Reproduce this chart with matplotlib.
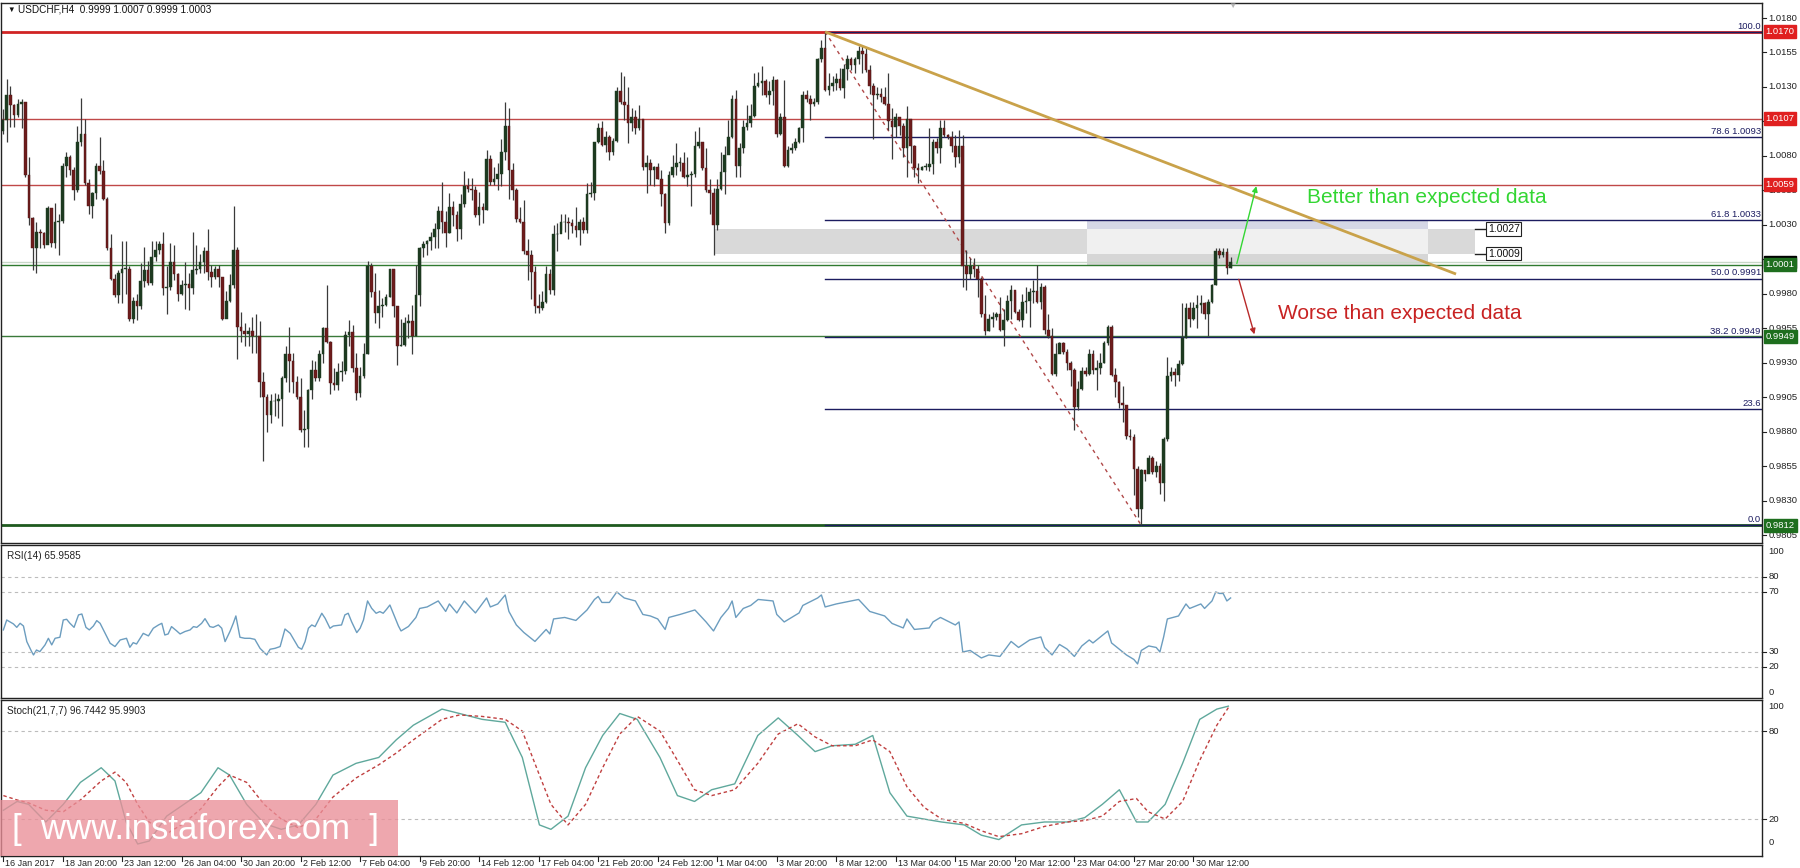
import numpy as np
import matplotlib
matplotlib.use("Agg")
import matplotlib.pyplot as plt
from matplotlib.patches import Rectangle
from matplotlib.transforms import blended_transform_factory as blend

# ---------------- data ----------------
first_open = 1.0098
close = [
 1.0106,1.0124,1.0117,1.0110,1.0118,1.0119,1.0066,1.0035,1.0013,1.0025,
 1.0024,1.0015,1.0042,1.0017,1.0032,1.0033,1.0073,1.0079,1.0070,1.0055,
 1.0090,1.0096,1.0060,1.0044,1.0053,1.0073,1.0069,1.0049,1.0013,0.9991,
 0.9979,0.9995,0.9998,0.9998,0.9962,0.9975,0.9971,0.9989,0.9997,0.9988,
 1.0007,1.0012,1.0016,0.9984,0.9985,1.0003,0.9994,0.9980,0.9986,0.9987,
 0.9984,0.9997,0.9998,1.0003,1.0011,0.9996,0.9992,0.9998,0.9992,0.9962,
 0.9975,0.9986,1.0012,0.9956,0.9953,0.9951,0.9953,0.9949,0.9949,0.9916,
 0.9905,0.9892,0.9902,0.9902,0.9904,0.9919,0.9936,0.9931,0.9916,0.9905,
 0.9881,0.9882,0.9910,0.9925,0.9919,0.9936,0.9955,0.9945,0.9915,0.9914,
 0.9923,0.9924,0.9950,0.9952,0.9926,0.9908,0.9920,0.9936,1.0000,0.9981,
 0.9966,0.9971,0.9972,0.9978,0.9998,0.9971,0.9942,0.9943,0.9959,0.9960,
 0.9949,0.9979,1.0013,1.0016,1.0018,1.0021,1.0027,1.0040,1.0032,1.0024,
 1.0043,1.0037,1.0027,1.0045,1.0058,1.0056,1.0055,1.0037,1.0043,1.0041,1.0078,1.0061,
 1.0063,1.0067,1.0083,1.0102,1.0070,1.0055,1.0034,1.0032,1.0011,1.0008,
 0.9996,0.9971,0.9970,0.9974,0.9994,0.9983,1.0023,1.0023,1.0032,1.0032,
 1.0031,1.0029,1.0026,1.0032,1.0026,1.0052,1.0053,1.0090,1.0100,1.0088,
 1.0094,1.0083,1.0091,1.0127,1.0119,1.0117,1.0104,1.0108,1.0100,1.0107,
 1.0072,1.0075,1.0070,1.0072,1.0063,1.0052,1.0031,1.0066,1.0072,1.0075,
 1.0075,1.0065,1.0066,1.0067,1.0087,1.0090,1.0071,1.0055,1.0053,1.0030,
 1.0056,1.0068,1.0081,1.0094,1.0121,1.0073,
 1.0086,1.0101,1.0104,1.0109,1.0131,1.0133,1.0134,1.0124,1.0127,1.0135,
 1.0096,1.0108,1.0073,1.0084,1.0086,1.0090,1.0100,1.0124,1.0121,1.0118,
 1.0119,1.0150,1.0158,1.0128,1.0131,1.0133,1.0136,1.0129,1.0143,1.0150,
 1.0146,1.0150,1.0156,1.0154,1.0142,1.0131,1.0124,1.0125,1.0123,1.0118,
 1.0105,1.0101,1.0108,1.0102,1.0086,1.0107,1.0087,1.0071,1.0070,1.0072,
 1.0072,1.0074,1.0090,1.0086,1.0100,1.0095,1.0094,1.0087,1.0079,1.0087,
 1.0000,0.9994,1.0000,0.9998,0.9991,0.9965,
 0.9953,0.9962,0.9963,0.9965,0.9954,0.9961,0.9975,0.9983,0.9967,0.9961,
 0.9974,0.9975,0.9981,0.9982,0.9974,0.9985,0.9954,0.9949,0.9922,0.9936,
 0.9944,0.9938,0.9930,0.9925,0.9898,0.9911,0.9924,0.9922,0.9936,0.9925,
 0.9926,0.9930,0.9944,0.9956,0.9921,0.9916,0.9901,0.9899,0.9877,0.9876,
 0.9853,0.9824,0.9852,0.9849,0.9861,0.9851,0.9855,0.9843,0.9875,0.9920,
 0.9923,0.9921,0.9929,0.9948,0.9970,0.9962,0.9970,0.9972,0.9973,0.9965,
 0.9974,0.9986,1.0011,1.0008,1.0010,0.9999,1.0003]
high = [
 1.0114,1.0136,1.0131,1.0118,1.0121,1.0121,1.0119,1.0079,1.0036,1.0032,
 1.0027,1.0025,1.0044,1.0042,1.0046,1.0038,1.0075,1.0083,1.0081,1.0072,
 1.0102,1.0122,1.0107,1.0063,1.0054,1.0075,1.0094,1.0077,1.0050,1.0023,
 0.9994,0.9997,1.0018,1.0018,1.0000,0.9978,0.9980,1.0002,1.0014,1.0004,
 1.0018,1.0018,1.0018,1.0025,1.0000,1.0017,1.0015,0.9995,0.9990,1.0003,
 0.9995,1.0025,1.0015,1.0009,1.0014,1.0027,1.0001,1.0000,1.0001,0.9983,
 0.9982,0.9994,1.0044,1.0014,0.9967,0.9959,0.9956,0.9963,0.9965,0.9960,
 0.9923,0.9907,0.9907,0.9908,0.9907,0.9920,0.9942,0.9956,0.9937,0.9920,
 0.9919,0.9896,0.9911,0.9932,0.9931,0.9939,0.9956,0.9986,0.9946,0.9926,
 0.9930,0.9931,0.9953,0.9961,0.9957,0.9937,0.9927,0.9944,1.0004,1.0002,
 0.9995,0.9983,0.9977,0.9980,0.9998,0.9998,0.9971,0.9962,0.9963,0.9965,
 0.9972,1.0001,1.0014,1.0018,1.0019,1.0025,1.0031,1.0044,1.0061,1.0040,
 1.0053,1.0047,1.0040,1.0052,1.0069,1.0064,1.0064,1.0058,1.0054,1.0046,1.0084,1.0081,
 1.0072,1.0075,1.0092,1.0119,1.0115,1.0075,1.0057,1.0043,1.0048,1.0020,
 1.0012,1.0000,0.9980,0.9982,1.0000,0.9998,1.0030,1.0031,1.0038,1.0038,
 1.0036,1.0034,1.0043,1.0034,1.0036,1.0060,1.0061,1.0090,1.0104,1.0105,
 1.0098,1.0095,1.0093,1.0130,1.0141,1.0138,1.0130,1.0115,1.0113,1.0117,
 1.0107,1.0081,1.0078,1.0073,1.0075,1.0070,1.0053,1.0069,1.0081,1.0089,
 1.0079,1.0083,1.0079,1.0069,1.0098,1.0101,1.0090,1.0086,1.0063,1.0057,
 1.0063,1.0083,1.0087,1.0106,1.0124,1.0128,
 1.0089,1.0106,1.0117,1.0118,1.0140,1.0141,1.0145,1.0136,1.0134,1.0138,
 1.0136,1.0111,1.0135,1.0087,1.0089,1.0093,1.0101,1.0127,1.0128,1.0124,
 1.0122,1.0151,1.0164,1.0170,1.0140,1.0138,1.0140,1.0144,1.0147,1.0153,
 1.0152,1.0152,1.0160,1.0160,1.0159,1.0146,1.0133,1.0130,1.0129,1.0130,
 1.0140,1.0115,1.0111,1.0106,1.0104,1.0116,1.0107,1.0088,1.0075,1.0073,
 1.0075,1.0100,1.0092,1.0093,1.0106,1.0106,1.0096,1.0098,1.0095,1.0099,
 1.0095,1.0012,1.0006,1.0006,1.0001,0.9992,
 0.9979,0.9965,0.9967,0.9967,0.9978,0.9969,0.9979,0.9986,0.9982,0.9969,
 0.9980,0.9985,0.9984,0.9990,1.0001,0.9988,0.9986,0.9965,0.9955,0.9944,
 0.9945,0.9945,0.9940,0.9931,0.9926,0.9917,0.9927,0.9927,0.9940,0.9939,
 0.9932,0.9937,0.9946,0.9957,0.9957,0.9926,0.9917,0.9913,0.9899,0.9882,
 0.9878,0.9855,0.9853,0.9852,0.9863,0.9862,0.9859,0.9857,0.9876,0.9934,
 0.9927,0.9926,0.9932,0.9973,0.9973,0.9974,0.9974,0.9979,0.9979,0.9974,
 0.9976,0.9987,1.0013,1.0013,1.0013,1.0013,1.0007]
low = [
 1.0096,1.0090,1.0101,1.0101,1.0108,1.0100,1.0065,1.0030,0.9997,0.9995,
 1.0013,1.0013,1.0023,1.0014,1.0013,1.0008,1.0031,1.0065,1.0066,1.0048,
 1.0054,1.0087,1.0059,1.0038,1.0035,1.0049,1.0067,1.0048,1.0012,0.9990,
 0.9978,0.9973,0.9973,0.9980,0.9960,0.9959,0.9961,0.9969,0.9985,0.9986,
 0.9986,1.0004,1.0009,0.9979,0.9965,0.9983,0.9990,0.9975,0.9979,0.9969,
 0.9968,0.9980,0.9994,0.9995,0.9995,0.9990,0.9985,0.9991,0.9985,0.9961,
 0.9966,0.9974,0.9984,0.9933,0.9945,0.9942,0.9942,0.9937,0.9937,0.9905,
 0.9859,0.9880,0.9886,0.9891,0.9890,0.9884,0.9916,0.9909,0.9908,0.9904,
 0.9880,0.9869,0.9869,0.9904,0.9917,0.9917,0.9930,0.9944,0.9907,0.9910,
 0.9910,0.9917,0.9922,0.9942,0.9923,0.9903,0.9905,0.9919,0.9936,0.9978,
 0.9959,0.9955,0.9963,0.9971,0.9978,0.9963,0.9928,0.9942,0.9942,0.9948,
 0.9936,0.9949,0.9971,1.0007,1.0008,1.0012,1.0013,1.0013,1.0024,1.0014,
 1.0024,1.0029,1.0018,1.0020,1.0043,1.0054,1.0048,1.0036,1.0030,1.0031,1.0041,1.0059,
 1.0059,1.0055,1.0058,1.0077,1.0049,1.0048,1.0032,1.0031,1.0009,0.9990,
 0.9976,0.9966,0.9966,0.9968,0.9973,0.9980,0.9979,1.0011,1.0026,1.0025,
 1.0020,1.0024,1.0021,1.0015,1.0024,1.0024,1.0050,1.0048,1.0089,1.0087,
 1.0083,1.0077,1.0081,1.0090,1.0118,1.0106,1.0089,1.0098,1.0096,1.0099,
 1.0070,1.0053,1.0059,1.0058,1.0063,1.0044,1.0024,1.0030,1.0065,1.0066,
 1.0069,1.0064,1.0058,1.0044,1.0065,1.0086,1.0070,1.0054,1.0038,1.0008,
 1.0026,1.0055,1.0052,1.0082,1.0093,1.0065,
 1.0065,1.0082,1.0099,1.0101,1.0108,1.0130,1.0124,1.0123,1.0118,1.0117,
 1.0094,1.0095,1.0072,1.0072,1.0082,1.0084,1.0089,1.0090,1.0119,1.0106,
 1.0116,1.0118,1.0148,1.0127,1.0124,1.0127,1.0128,1.0128,1.0122,1.0135,
 1.0142,1.0140,1.0147,1.0140,1.0141,1.0125,1.0092,1.0121,1.0119,1.0117,
 1.0099,1.0078,1.0094,1.0095,1.0079,1.0065,1.0075,1.0065,1.0060,1.0070,
 1.0070,1.0069,1.0067,1.0082,1.0075,1.0094,1.0092,1.0083,1.0072,1.0075,
 0.9985,0.9983,0.9991,0.9992,0.9978,0.9963,
 0.9950,0.9953,0.9956,0.9961,0.9953,0.9942,0.9960,0.9962,0.9966,0.9960,
 0.9956,0.9966,0.9956,0.9973,0.9973,0.9969,0.9951,0.9948,0.9921,0.9920,
 0.9937,0.9936,0.9925,0.9913,0.9881,0.9896,0.9910,0.9920,0.9921,0.9922,
 0.9910,0.9922,0.9930,0.9943,0.9920,0.9905,0.9897,0.9887,0.9875,0.9874,
 0.9834,0.9818,0.9812,0.9844,0.9852,0.9849,0.9847,0.9835,0.9830,0.9873,
 0.9917,0.9913,0.9917,0.9928,0.9948,0.9956,0.9961,0.9955,0.9966,0.9962,
 0.9949,0.9973,0.9986,1.0006,1.0007,0.9994,0.9999]

rsi_bars = [0.1,1.0,2.8,3.7,4.6,5.5,6.4,7.7,8.2,9.0,9.9,11.3,12.2,13.1,14.0,15.3,16.2,17.1,18.0,19.1,
 20.3,21.2,22.3,23.2,24.3,25.2,26.1,27.0,28.8,30.1,31.5,33.2,34.1,35.0,35.9,37.7,39.1,40.4,41.8,42.7,
 43.5,44.4,45.3,46.7,47.6,48.9,50.3,51.2,52.1,53.4,54.3,55.6,56.5,57.9,58.8,59.7,61.0,61.9,62.6,63.7,
 65.0,66.4,67.7,69.1,70.0,70.9,71.8,73.1,74.5,75.8,77.2,78.5,79.4,80.3,81.2,82.1,83.0,83.9,85.7,86.6,
 87.9,88.8,89.7,91.0,91.9,92.8,93.7,95.1,96.0,96.9,98.0,99.1,100.3,101.3,102.2,103.1,104.0,104.9,106.3,
 107,109,111,112,114,117,119,120,122,124,
 127,130,131,133,135,136,138,140,143,146,
 147,148,151,154,157,159,160,161,163,165,
 167,170,172,174,176,178,179,182,186,189,
 191,193,195,196,197,199,201,203,207,208,
 210,214,215,219,220,221,224,226,230,233,
 237,239,242,243,245,249,250,252,256,257,
 258,260,263,265,268,271,273,276,279,280,
 282,284,286,288,290,292,293,297,298,300,
 302,304,305,306,308,310,311,312,313,316,
 317,318,319,322,323,325,326,327,328,329,330]
rsi_vals = [44.7,51.3,48.7,46.4,49.1,47.3,36.9,30.2,28.0,31.3,30.2,34.7,39.1,34.7,39.1,39.8,51.3,51.8,49.1,46.4,
 54.7,55.3,46.4,44.7,47.3,50.9,49.1,44.7,35.8,33.6,38.0,39.1,33.1,36.2,35.3,42.4,40.7,45.8,48.0,49.1,
 41.3,42.0,46.9,44.0,42.0,43.6,44.7,46.9,46.4,49.1,52.2,46.9,46.4,48.0,45.8,36.9,43.6,49.1,54.0,39.8,
 39.1,39.1,38.4,32.4,30.2,28.0,31.8,32.4,33.6,45.3,42.4,36.9,33.1,31.8,36.9,45.8,48.0,46.9,55.8,52.4,
 45.8,47.3,47.6,48.0,54.7,55.8,50.2,42.9,45.8,51.3,64.0,59.1,55.8,56.9,55.8,58.4,61.3,55.8,47.3,
 44,47,53,59,60,64,57,62,56,64,
 56,66,60,62,68,57,48,43,37,45,
 42,52,53,51,58,65,67,63,63,70,
 66,64,55,54,52,45,53,55,58,50,
 44,53,59,64,53,59,61,65,64,55,
 50,56,61,66,68,60,62,63,65,57,
 54,49,46,52,45,46,50,53,48,50,
 30,31,26,28,27,37,33,38,40,33,
 28,35,32,27,34,38,36,44,36,32,
 28,25,22,31,34,33,30,40,52,54,
 58,62,59,62,59,64,70,69,69,64,66]

stoch_bars = [0.1,3.8,6.9,11.5,16.2,20.8,26.4,30.1,33.1,36.2,
 39.3,44,48.6,53.2,57.8,60.9,65.5,70.2,74.8,79.4,
 84.1,88.7,94.9,101,105.7,110.3,118,122.7,128.8,135,
 139.6,144.2,147.3,151.9,156.6,161.2,165.8,170.5,176.6,181.3,
 185.9,190.5,196.7,202.9,208.4,213.7,218.3,222.9,229.1,233.8,
 238.4,243,247.6,252.3,258.4,263,267.7,273.8,280,286.2,
 290.8,295.5,300.1,304.7,307.8,312.4,317.1,321.7,326.3,329.4]
stoch_main = [26,32,30,18,30,45,55,46,18,3,
 5,22,30,38,55,50,30,17,13,16,
 30,50,58,62,74,84,95,92,88,86,
 62,16,13,22,55,77,92,88,62,36,
 32,40,44,77,89,77,66,70,71,77,
 38,22,20,18,16,9,6,16,18,18,
 21,30,40,18,18,30,58,88,95,97]
stoch_signal = [36,33,31,26,25,33,46,52,45,30,
 18,10,17,27,42,50,45,30,20,14,
 20,35,48,57,65,74,88,91,90,88,
 80,50,30,16,30,55,78,90,80,60,
 40,36,40,58,78,85,76,70,70,74,
 66,42,28,20,17,12,8,10,15,18,
 19,22,32,34,25,20,32,60,84,96]

price_ticks = [1.0180,1.0155,1.0130,1.0105,1.0080,1.0055,1.0030,1.0005,0.9980,0.9955,0.9930,0.9905,0.9880,0.9855,0.9830,0.9805]
date_labels = ["16 Jan 2017","18 Jan 20:00","23 Jan 12:00","26 Jan 04:00","30 Jan 20:00","2 Feb 12:00","7 Feb 04:00",
 "9 Feb 20:00","14 Feb 12:00","17 Feb 04:00","21 Feb 20:00","24 Feb 12:00","1 Mar 04:00","3 Mar 20:00","8 Mar 12:00",
 "13 Mar 04:00","15 Mar 20:00","20 Mar 12:00","23 Mar 04:00","27 Mar 20:00","30 Mar 12:00"]
level_red = [1.0170, 1.0107, 1.0059]
level_green = [1.0001, 0.9949, 0.9812]
fib_high, fib_low = 1.0170, 0.9812
fib_levels = [(100.0, "100.0"), (78.6, "78.6 1.0093"), (61.8, "61.8 1.0033"), (50.0, "50.0 0.9991"),
              (38.2, "38.2 0.9949"), (23.6, "23.6"), (0.0, "0.0")]

# ---------------- layout ----------------
W, H = 1800, 868
fig = plt.figure(figsize=(18, 8.68), dpi=100)
plt.rcParams["font.family"] = ["Liberation Sans", "DejaVu Sans"]

def rect(top, bottom, left=1, right=1762):
    return [left / W, 1 - bottom / H, (right - left) / W, (bottom - top) / H]

ax = fig.add_axes(rect(3, 543))
ax_r = fig.add_axes(rect(545, 698))
ax_s = fig.add_axes(rect(700, 856))
DX = 3.72
xlim = ((1 - 3) / DX, (1762 - 3) / DX)
for a in (ax, ax_r, ax_s):
    a.set_xlim(*xlim)
    a.set_xticks([]); a.set_yticks([])
    for s in a.spines.values():
        s.set_color("#222222"); s.set_linewidth(1.0)
ax.set_ylim(0.97992, 1.01909)
ax_r.set_ylim(-0.7, 101.3)
ax_s.set_ylim(-5.2, 101.2)

n = len(close)
x = np.arange(n)
c = np.array(close); h = np.array(high); l = np.array(low)
o = np.concatenate([[first_open], c[:-1]])   # H4 bars open at previous close

# zones
zA0, zA1, zB0, zB1 = 191.4, 395.7, 291.4, 383.1
ax.add_patch(Rectangle((zA0, 1.0009), zB0 - zA0, 0.0018, fc="#d9d9d9", ec="none", zorder=0.5))
ax.add_patch(Rectangle((zB0, 1.0027), zB1 - zB0, 0.0006, fc="#d5d7e6", ec="none", zorder=0.5))
ax.add_patch(Rectangle((zB0, 1.0009), zB1 - zB0, 0.0018, fc="#f0f0f0", ec="none", zorder=0.5))
ax.add_patch(Rectangle((zB0, 1.0001), zB1 - zB0, 0.0008, fc="#d6d6d6", ec="none", zorder=0.5))
ax.add_patch(Rectangle((zB1, 1.0009), zA1 - zB1, 0.0018, fc="#d9d9d9", ec="none", zorder=0.5))

# horizontal levels
ax.axhline(1.0170, color="#d02424", lw=2.0, zorder=1)
ax.axhline(1.0107, color="#c04848", lw=1.0, zorder=1)
ax.axhline(1.0059, color="#c04848", lw=1.0, zorder=1)
ax.axhline(1.0003, color="#c8d8c8", lw=1.0, zorder=1)
ax.axhline(1.0001, color="#2e7a2e", lw=1.0, zorder=1)
ax.axhline(0.9949, color="#3a7a3a", lw=1.0, zorder=1)
ax.axhline(0.9812, color="#1e5a1e", lw=2.0, zorder=1)

# fibonacci
fib_start = 221
for pct, lab in fib_levels:
    v = fib_low + (fib_high - fib_low) * pct / 100.0
    ax.plot([fib_start, xlim[1]], [v, v], color="#1c1c60", lw=1.0, zorder=1.2)
    ax.text(0.9993, v + 0.00008, lab, transform=blend(ax.transAxes, ax.transData), ha="right", va="bottom",
            fontsize=6.8, color="#1c1c60", zorder=5)
ax.plot([221, 306], [fib_high, fib_low], color="#b04848", lw=1.0, ls=(0, (2.5, 3)), zorder=1.3)

# candles
up = c >= o
bw = 0.72
ax.vlines(x, l, h, color="#3a3a3a", lw=0.9, zorder=2)
bot = np.minimum(o, c); ht = np.maximum(np.abs(c - o), 0.00004)
ax.bar(x[up], ht[up], bw, bot[up], color="#1d3a20", edgecolor="#1d3a20", lw=0.3, zorder=2.5)
ax.bar(x[~up], ht[~up], bw, bot[~up], color="#6e1c1c", edgecolor="#4a1515", lw=0.3, zorder=2.5)

# trend line
ax.plot([221, 390.6], [1.0170, 0.99943], color="#c9a24a", lw=2.0, zorder=3, solid_capstyle="butt")

# arrows
ax.annotate("", xy=(337.1, 1.0060), xytext=(331.5, 1.0000),
            arrowprops=dict(arrowstyle="-|>", color="#33d633", lw=1.0, mutation_scale=8), zorder=4)
ax.annotate("", xy=(336.6, 0.99486), xytext=(332.0, 0.99924),
            arrowprops=dict(arrowstyle="-|>", color="#b82a2a", lw=1.0, mutation_scale=8), zorder=4)
ax.text(350.5, 1.0050, "Better than expected data", color="#33d633", fontsize=15,
        va="center", ha="left", zorder=4)
ax.text(342.7, 0.99655, "Worse than expected data", color="#c82222", fontsize=15,
        va="center", ha="left", zorder=4)

# zone labels
for v, lab in [(1.0027, "1.0027"), (1.0009, "1.0009")]:
    ax.plot([zA1, zA1 + 3.3], [v, v], color="#222222", lw=1.0, zorder=4)
    ax.text(zA1 + 3.5, v, lab, fontsize=7.5, va="center", ha="left", color="#111111", zorder=4,
            bbox=dict(boxstyle="square,pad=0.15", fc="white", ec="#222222", lw=0.8))

# right price axis
tr = blend(ax.transAxes, ax.transData)
for v in price_ticks:
    ax.plot([1.0, 1.0025], [v, v], transform=tr, color="#222222", lw=0.8, clip_on=False)
    ax.text(1.0036, v, f"{v:.4f}", transform=tr, fontsize=6.8, va="center", ha="left", color="#222222", clip_on=False)
ax.text(1.0020, 1.0003, "1.0003", transform=tr, fontsize=6.8, va="center", ha="left", color="white", clip_on=False,
        bbox=dict(boxstyle="square,pad=0.2", fc="black", ec="black"), zorder=6)
for v in level_red:
    ax.text(1.0020, v, f"{v:.4f}", transform=tr, fontsize=6.8, va="center", ha="left", color="white", clip_on=False,
            bbox=dict(boxstyle="square,pad=0.2", fc="#e02020", ec="#e02020"), zorder=7)
for v in level_green:
    ax.text(1.0020, v, f"{v:.4f}", transform=tr, fontsize=6.8, va="center", ha="left", color="white", clip_on=False,
            bbox=dict(boxstyle="square,pad=0.2", fc="#1e6e1e", ec="#1e6e1e"), zorder=7)

# RSI
ax_r.plot(rsi_bars, rsi_vals, color="#6c9dbf", lw=1.0)
for v in (80, 70, 30, 20):
    ax_r.axhline(v, color="#bcbcbc", lw=0.8, ls=(0, (3, 3)))
trr = blend(ax_r.transAxes, ax_r.transData)
for v, lab in [(97, "100"), (80, "80"), (70, "70"), (30, "30"), (20, "20"), (3, "0")]:
    ax_r.text(1.0036, v, lab, transform=trr, fontsize=6.8, va="center", ha="left", color="#222222", clip_on=False)
for v in (80, 70, 30, 20):
    ax_r.plot([1.0, 1.0025], [v, v], transform=trr, color="#222222", lw=0.8, clip_on=False)
ax_r.text(0.0035, 0.93, "RSI(14) 65.9585", transform=ax_r.transAxes, fontsize=7.2, va="center", ha="left",
          color="#222222")

# Stochastic
ax_s.plot(stoch_bars, stoch_main, color="#5fa89c", lw=1.0)
ax_s.plot(stoch_bars, stoch_signal, color="#c04040", lw=1.0, ls=(0, (2.5, 2)))
for v in (80, 20):
    ax_s.axhline(v, color="#bcbcbc", lw=0.8, ls=(0, (3, 3)))
trs = blend(ax_s.transAxes, ax_s.transData)
for v, lab in [(97, "100"), (80, "80"), (20, "20"), (4, "0")]:
    ax_s.text(1.0036, v, lab, transform=trs, fontsize=6.8, va="center", ha="left", color="#222222", clip_on=False)
for v in (80, 20):
    ax_s.plot([1.0, 1.0025], [v, v], transform=trs, color="#222222", lw=0.8, clip_on=False)
ax_s.text(0.0035, 0.93, "Stoch(21,7,7) 96.7442 95.9903", transform=ax_s.transAxes, fontsize=7.2, va="center",
          ha="left", color="#222222")

# date axis
trd = blend(ax_s.transData, ax_s.transAxes)
for k, lab in enumerate(date_labels):
    b = 16 * k
    ax_s.plot([b, b], [0, -0.03], transform=trd, color="#222222", lw=0.8, clip_on=False)
    ax_s.text(b + 0.6, -0.022, lab, transform=trd, fontsize=6.5, va="top", ha="left", color="#222222", clip_on=False)

# header
fig.text(7 / W, 1 - 10 / H, "\u25bc", fontsize=5.5, va="center", ha="left", color="#111111")
fig.text(18 / W, 1 - 10 / H, "USDCHF,H4  0.9999 1.0007 0.9999 1.0003", fontsize=7.2, va="center", ha="left",
         color="#111111")
fig.text(1232 / W, 1 - 6 / H, "\u25bc", fontsize=6, va="center", ha="center", color="#b4b4b4")

# watermark
fig.add_artist(Rectangle((0, 1 - 856 / H), 398 / W, 56 / H, transform=fig.transFigure, fc="#ea8f98",
                         ec="none", alpha=0.78, zorder=20))
fig.text(12 / W, 1 - 829 / H, "[  www.instaforex.com  ]", fontsize=25, color="white", va="center", ha="left",
         zorder=21)

fig.savefig("out.png", dpi=100, facecolor="white")
